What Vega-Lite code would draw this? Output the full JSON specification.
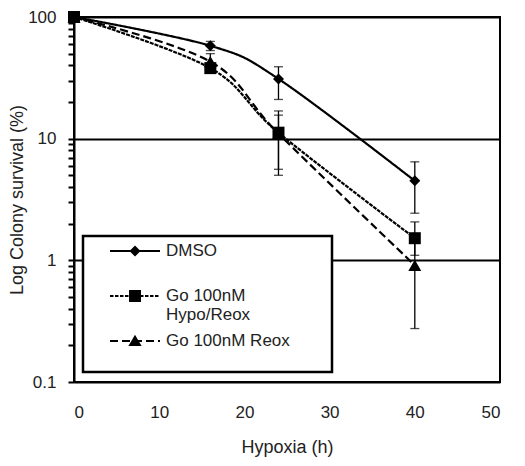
{
  "$schema": "https://vega.github.io/schema/vega-lite/v6.json",
  "width": 426,
  "height": 365,
  "autosize": "none",
  "padding": {"left": 74, "top": 17, "right": 25, "bottom": 84},
  "background": "white",
  "config": {
    "view": {"stroke": "black", "strokeWidth": 2},
    "font": "Liberation Sans",
    "axis": {
      "labelFont": "Liberation Sans",
      "titleFont": "Liberation Sans",
      "labelColor": "#222",
      "titleColor": "#222",
      "labelFontSize": 17,
      "titleFontSize": 18,
      "titleFontWeight": "normal",
      "domainColor": "black",
      "domainWidth": 2,
      "tickColor": "black",
      "gridColor": "black",
      "gridWidth": 2
    },
    "legend": {
      "orient": "none",
      "legendX": 9,
      "legendY": 219,
      "padding": 4,
      "strokeColor": "black",
      "strokeWidth": 2.5,
      "fillColor": "white",
      "symbolSize": 400,
      "symbolStrokeWidth": 2,
      "symbolFillColor": "black",
      "symbolStrokeColor": "black",
      "symbolOffset": 37,
      "labelOffset": 20,
      "labelFontSize": 17,
      "labelFont": "Liberation Sans",
      "labelColor": "#222",
      "labelLimit": 400,
      "rowPadding": 7
    }
  },
  "datasets": {
    "means": [
      {"series": "DMSO", "hours": 0, "survival": 100},
      {"series": "DMSO", "hours": 16, "survival": 58},
      {"series": "DMSO", "hours": 24, "survival": 31},
      {"series": "DMSO", "hours": 40, "survival": 4.5},
      {"series": "Go 100nM Hypo/Reox", "hours": 0, "survival": 100},
      {"series": "Go 100nM Hypo/Reox", "hours": 16, "survival": 38},
      {"series": "Go 100nM Hypo/Reox", "hours": 24, "survival": 11.2},
      {"series": "Go 100nM Hypo/Reox", "hours": 40, "survival": 1.52},
      {"series": "Go 100nM  Reox", "hours": 0, "survival": 100},
      {"series": "Go 100nM  Reox", "hours": 16, "survival": 43},
      {"series": "Go 100nM  Reox", "hours": 24, "survival": 11.0},
      {"series": "Go 100nM  Reox", "hours": 40, "survival": 0.91}
    ],
    "errs": [
      {"series": "DMSO", "hours": 16, "lo": 53, "hi": 63},
      {"series": "DMSO", "hours": 24, "lo": 21, "hi": 39},
      {"series": "DMSO", "hours": 40, "lo": 2.44, "hi": 6.45},
      {"series": "Go 100nM Hypo/Reox", "hours": 16, "lo": 35, "hi": 41},
      {"series": "Go 100nM Hypo/Reox", "hours": 24, "lo": 5.0, "hi": 16.9},
      {"series": "Go 100nM Hypo/Reox", "hours": 40, "lo": 1.1, "hi": 2.07},
      {"series": "Go 100nM  Reox", "hours": 16, "lo": 37, "hi": 50},
      {"series": "Go 100nM  Reox", "hours": 24, "lo": 5.6, "hi": 15.6},
      {"series": "Go 100nM  Reox", "hours": 40, "lo": 0.275, "hi": 1.6}
    ]
  },
  "encoding": {
    "x": {
      "field": "hours", "type": "quantitative",
      "scale": {"domain": [0, 50]},
      "axis": {"title": "Hypoxia (h)", "values": [0, 10, 20, 30, 40, 50], "ticks": false, "tickSize": 0, "labelPadding": 22, "grid": false, "titlePadding": 18}
    }
  },
  "layer": [
    {
      "data": {"name": "means"},
      "transform": [{"filter": "datum.hours < 0"}],
      "mark": {"type": "point", "filled": true, "color": "black", "fill": "black", "stroke": "black", "size": 400, "strokeWidth": 2, "opacity": 1},
      "encoding": {
        "y": {"field": "survival", "type": "quantitative", "title": "Log Colony survival (%)", "scale": {"type": "log", "domain": [0.1, 100]}},
        "shape": {
          "field": "series", "type": "nominal",
          "scale": {
            "domain": ["DMSO", "Go 100nM Hypo/Reox", "Go 100nM  Reox"],
            "range": [
              "M-2.5,-0.1H2.5V0.1H-2.5ZM0,-0.55L0.55,0L0,0.55L-0.55,0ZM18.9,0",
              "M-2.5,-0.1H-2.15V0.1H-2.5ZM-2,-0.1H-1.65V0.1H-2ZM-1.5,-0.1H-1.15V0.1H-1.5ZM-1,-0.1H-0.65V0.1H-1ZM-0.5,-0.1H-0.15V0.1H-0.5ZM0,-0.1H0.35V0.1H0ZM0.5,-0.1H0.85V0.1H0.5ZM1,-0.1H1.35V0.1H1ZM1.5,-0.1H1.85V0.1H1.5ZM2,-0.1H2.35V0.1H2ZM-0.6,-0.6H0.6V0.6H-0.6ZM18.9,0",
              "M-2.5,-0.1H-1.7V0.1H-2.5ZM-1.3,-0.1H-0.5V0.1H-1.3ZM-0.1,-0.1H0.7V0.1H-0.1ZM1.1,-0.1H1.9V0.1H1.1ZM2.3,-0.1H2.5V0.1H2.3ZM0,-0.62L0.66,0.5H-0.66ZM18.9,0"
            ]
          },
          "legend": {
            "title": null,
            "labelExpr": "datum.value == 'DMSO' ? ['DMSO', ' '] : datum.value == 'Go 100nM Hypo/Reox' ? ['Go 100nM', 'Hypo/Reox'] : ['Go 100nM  Reox', ' ']"
          }
        },
        "strokeDash": {
          "field": "series", "type": "nominal",
          "scale": {"domain": ["DMSO", "Go 100nM Hypo/Reox", "Go 100nM  Reox"], "range": [[1, 0], [4, 1], [8, 4]]},
          "legend": {
            "title": null,
            "labelExpr": "datum.value == 'DMSO' ? ['DMSO', ' '] : datum.value == 'Go 100nM Hypo/Reox' ? ['Go 100nM', 'Hypo/Reox'] : ['Go 100nM  Reox', ' ']"
          }
        }
      }
    },
    {
      "data": {"name": "errs"},
      "mark": {"type": "rule", "strokeWidth": 1.3, "color": "black"},
      "encoding": {
        "y": {"field": "lo", "type": "quantitative", "title": "Log Colony survival (%)"},
        "y2": {"field": "hi"}
      }
    },
    {
      "data": {"name": "errs"},
      "mark": {"type": "tick", "orient": "horizontal", "size": 9, "thickness": 1.3, "color": "black"},
      "encoding": {
        "y": {"field": "lo", "type": "quantitative", "title": "Log Colony survival (%)"}
      }
    },
    {
      "data": {"name": "errs"},
      "mark": {"type": "tick", "orient": "horizontal", "size": 9, "thickness": 1.3, "color": "black"},
      "encoding": {
        "y": {"field": "hi", "type": "quantitative", "title": "Log Colony survival (%)"}
      }
    },
    {
      "data": {"name": "means"},
      "mark": {"type": "line", "interpolate": "cardinal", "color": "black", "strokeWidth": 2.2},
      "encoding": {
        "y": {
          "field": "survival", "type": "quantitative",
          "axis": {
            "title": "Log Colony survival (%)",
            "values": [0.1, 0.2, 0.3, 0.4, 0.5, 0.6, 0.7, 0.8, 0.9, 1, 2, 3, 4, 5, 6, 7, 8, 9, 10, 20, 30, 40, 50, 60, 70, 80, 90, 100],
            "labelExpr": "datum.value == 0.1 ? '0.1' : datum.value == 1 ? '1' : datum.value == 10 ? '10' : datum.value == 100 ? '100' : ''",
            "grid": true,
            "gridOpacity": {"condition": {"test": "datum.value == 1 || datum.value == 10 || datum.value == 100", "value": 1}, "value": 0},
            "tickSize": 6,
            "tickWidth": 2,
            "labelPadding": 12,
            "titlePadding": 1
          }
        },
        "strokeDash": {
          "field": "series", "type": "nominal",
          "legend": {
            "title": null,
            "labelExpr": "datum.value == 'DMSO' ? ['DMSO', ' '] : datum.value == 'Go 100nM Hypo/Reox' ? ['Go 100nM', 'Hypo/Reox'] : ['Go 100nM  Reox', ' ']"
          }
        }
      }
    },
    {
      "data": {"name": "means"},
      "transform": [{"filter": "datum.series == 'DMSO'"}],
      "mark": {"type": "point", "shape": "diamond", "size": 121, "filled": true, "color": "black", "opacity": 1},
      "encoding": {"y": {"field": "survival", "type": "quantitative", "title": "Log Colony survival (%)"}}
    },
    {
      "data": {"name": "means"},
      "transform": [{"filter": "datum.series == 'Go 100nM Hypo/Reox'"}],
      "mark": {"type": "point", "shape": "square", "size": 144, "filled": true, "color": "black", "opacity": 1},
      "encoding": {"y": {"field": "survival", "type": "quantitative", "title": "Log Colony survival (%)"}}
    },
    {
      "data": {"name": "means"},
      "transform": [{"filter": "datum.series == 'Go 100nM  Reox'"}],
      "mark": {"type": "point", "shape": "triangle-up", "size": 169, "filled": true, "color": "black", "opacity": 1},
      "encoding": {"y": {"field": "survival", "type": "quantitative", "title": "Log Colony survival (%)"}}
    }
  ]
}
